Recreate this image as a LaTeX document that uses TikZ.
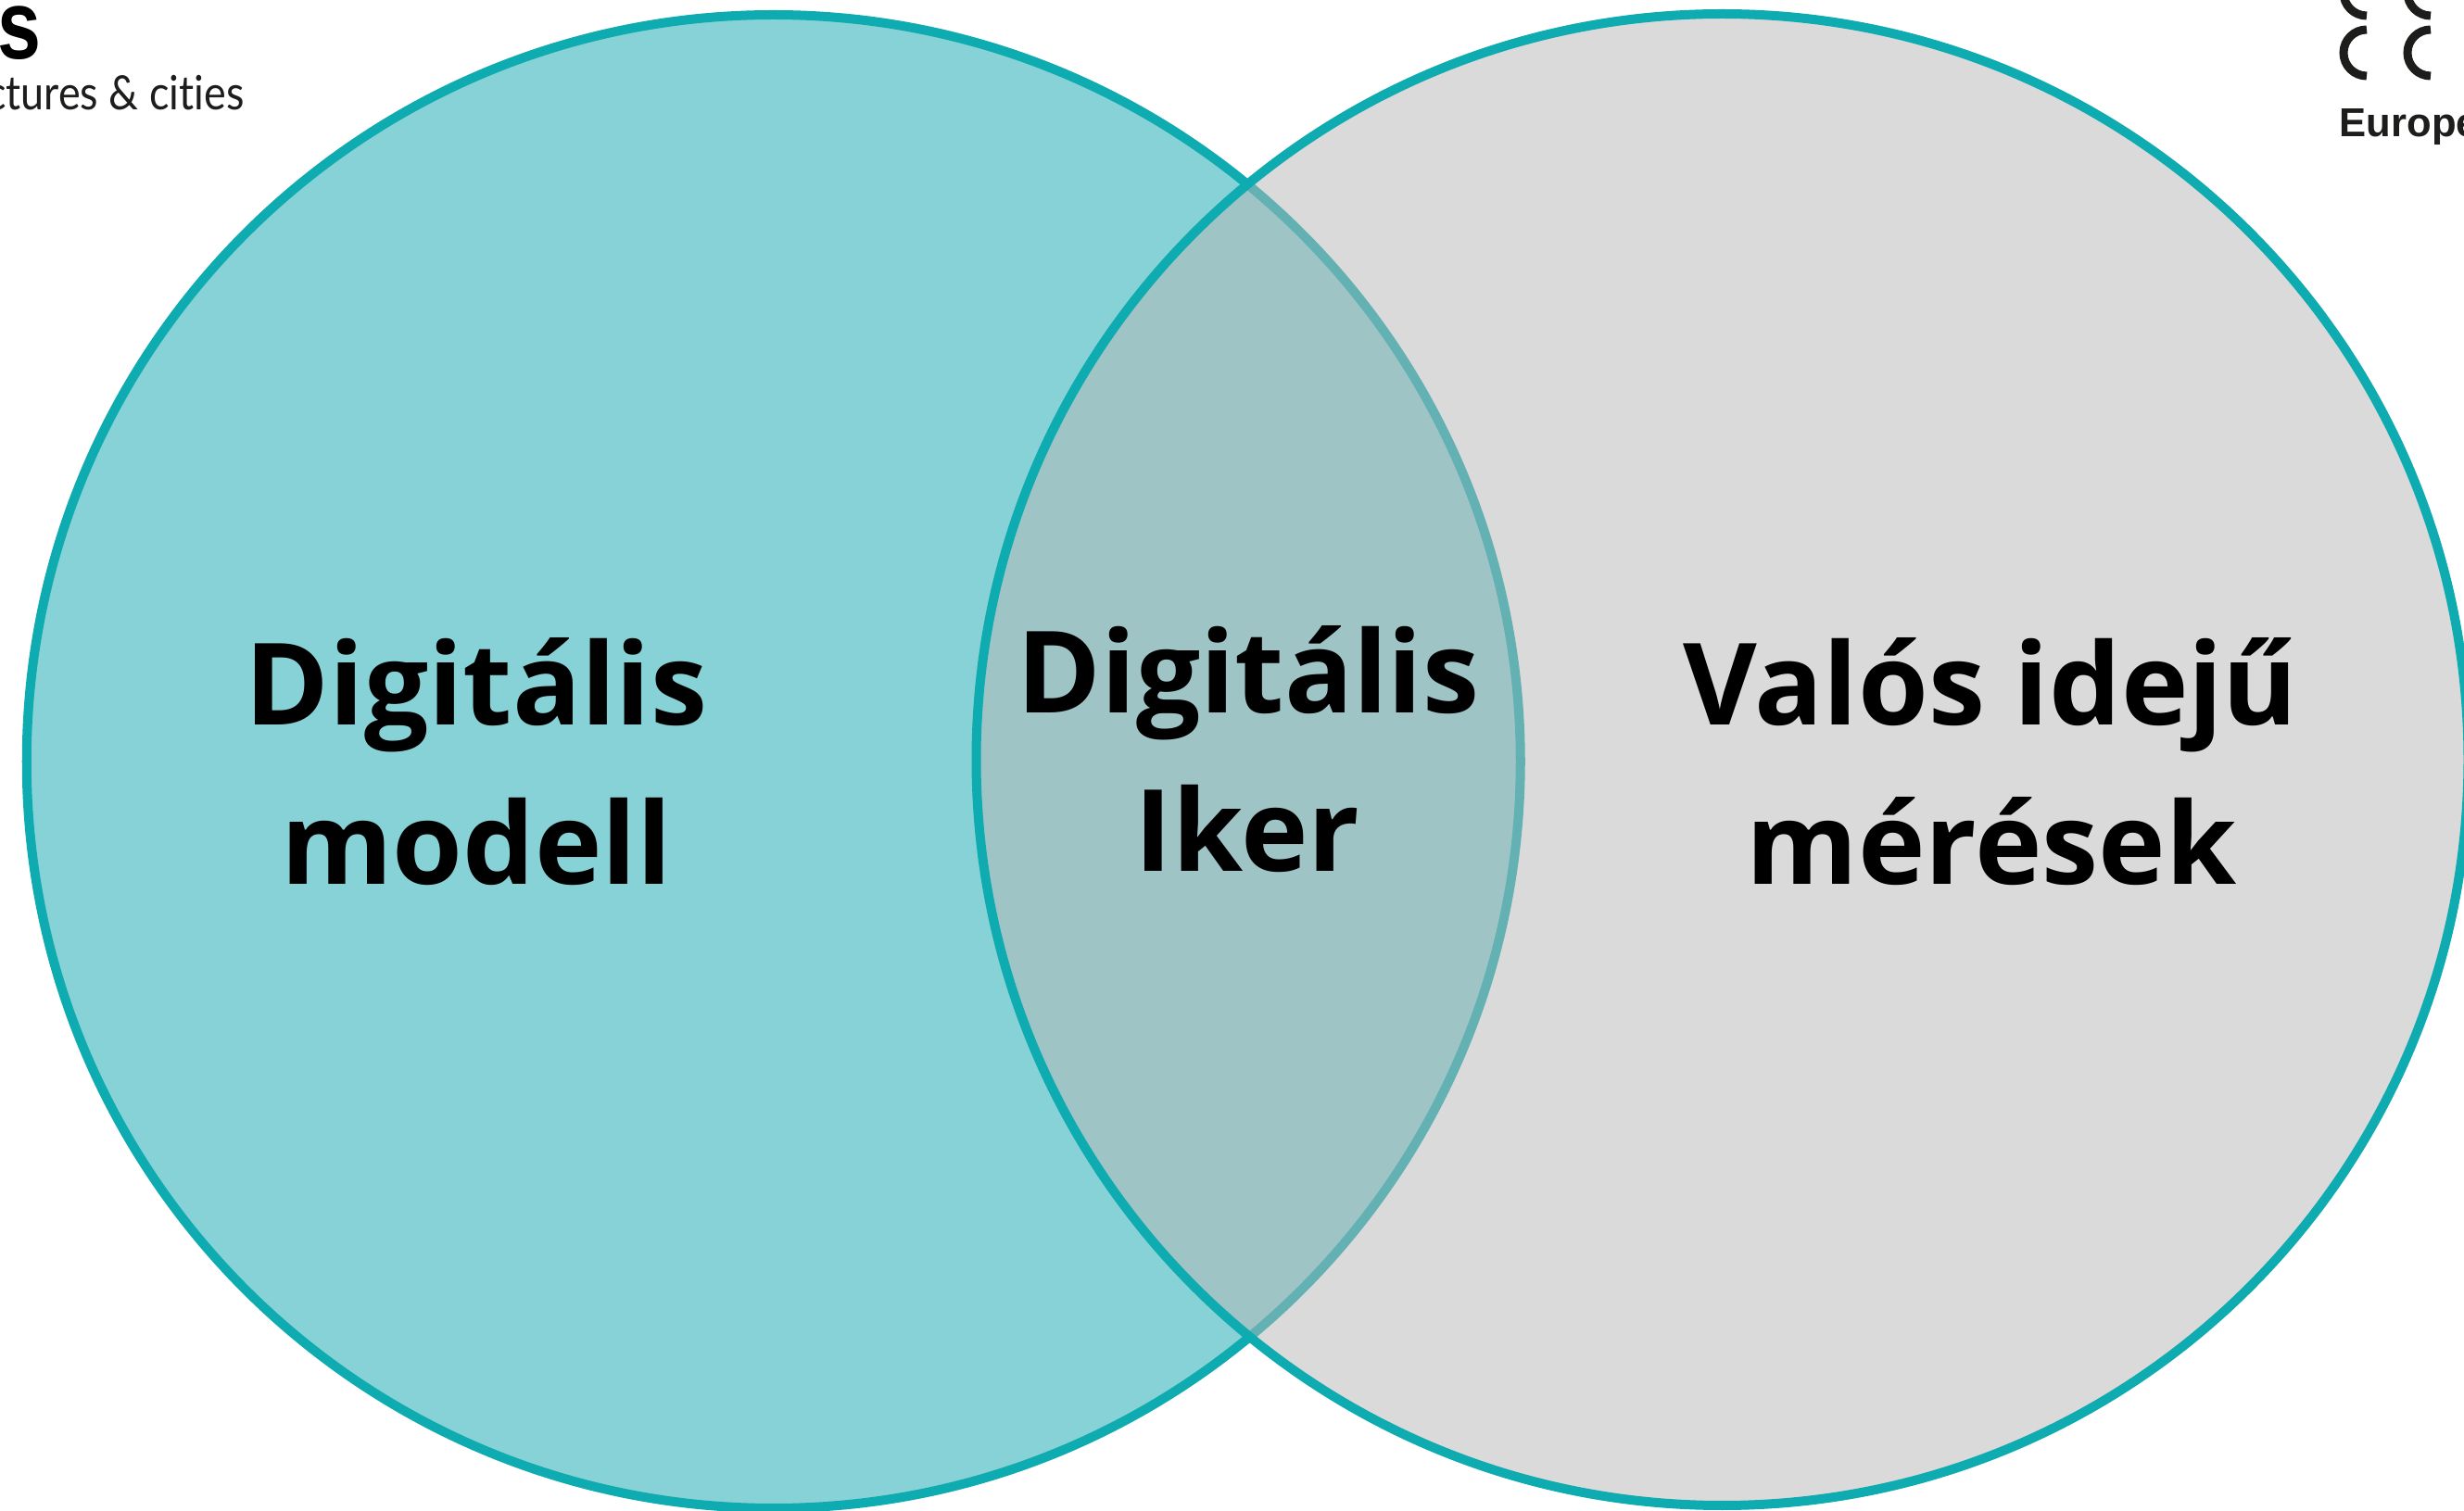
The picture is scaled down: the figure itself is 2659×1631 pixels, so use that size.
\documentclass[tikz,border=0pt]{standalone}
\usepackage{fontspec}
\setmainfont{Open Sans}
\newfontfamily\logofont[Ligatures=NoCommon]{Lato}
\newfontfamily\arialfont{Liberation Sans}
\definecolor{tealline}{HTML}{0EABB0}
\definecolor{tealfill}{HTML}{87D2D6}
\definecolor{greyfill}{HTML}{B8B8B8}
\definecolor{logoblack}{HTML}{1D1D1B}
\tikzset{
  ring/.style={draw=tealline, line width=0.1cm},
  label/.style={anchor=base, font=\fontsize{34.9}{40}\selectfont\bfseries, text=black, inner sep=0pt},
  logoarc/.style={draw=logoblack, line width=0.09cm}
}
\begin{document}
\begin{tikzpicture}[x=0.01cm, y=-0.01cm]
	\useasboundingbox (0,0) rectangle (2659,1631);
	\clip (0,0) rectangle (2659,1631);
	\fill[white] (0,0) rectangle (2659,1631);
	% the two circles
	\draw[ring, fill=tealfill] (834.75,822) circle (806);
	\draw[ring, fill=greyfill, fill opacity=.51] (1858.5,820) circle (805);
	% labels
	\node[label] (modell1) at (514,783) {Digitális};
	\node[label] (modell2) at (514,955) {modell};
	\node[label] (iker1) at (1347,770) {Digitális};
	\node[label] (iker2) at (1346,941) {Iker};
	\node[label] (meres1) at (2148,783) {Valós idejű};
	\node[label] (meres2) at (2149,955) {mérések};
	% cut off logos in the corners
	\node[anchor=base east, inner sep=0pt, text=logoblack, xscale=.88, font=\logofont\fontsize{14.5}{16}\selectfont] (logoleft) at (264,119) {ctures \& cities};
	\node[anchor=base east, inner sep=0pt, text=black, xscale=.8, font=\arialfont\fontsize{30}{32}\selectfont\bfseries] (logotop) at (45,64) {s};
	\foreach \px in {2554,2623}
		\foreach \py in {32,-33}
			\draw[logoarc] (\px,\py) arc[start angle=270, end angle=90, radius=25];
	\node[anchor=base west, inner sep=0pt, text=logoblack, font=\arialfont\fontsize{12.4}{15}\selectfont\bfseries] (logoright) at (2524,148) {Europe};
\end{tikzpicture}
\end{document}
